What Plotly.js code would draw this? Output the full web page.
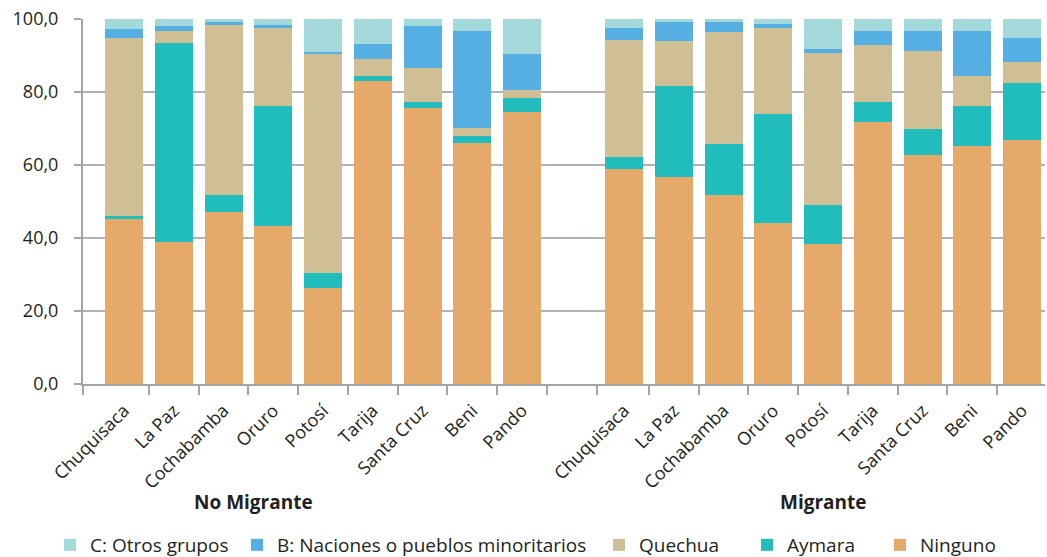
<!DOCTYPE html>
<html>
<head>
<meta charset="utf-8">
<script src="https://cdn.plot.ly/plotly-3.0.1.min.js"></script>
<style>
  html, body { margin: 0; padding: 0; background: #ffffff; }
  #chart { width: 1047px; height: 557px; }
</style>
</head>
<body>
<div id="chart"></div>
<script>
// Categories
const departamentos = ["Chuquisaca", "La Paz", "Cochabamba", "Oruro", "Potosí", "Tarija", "Santa Cruz", "Beni", "Pando"];
const grupos = ["No Migrante", "Migrante"];

// Series values (%), No Migrante
const ningunoNM  = [45.2, 38.9, 47.1, 43.3, 26.3, 83.0, 75.6, 66.0, 74.5];
const aymaraNM   = [0.8, 54.5, 4.7, 32.9, 4.1, 1.4, 1.7, 1.9, 3.9];
const quechuaNM  = [48.8, 3.3, 46.6, 21.3, 60.0, 4.6, 9.3, 2.2, 2.1];
const naciones_NM = [2.5, 1.4, 0.8, 0.9, 0.6, 4.2, 11.5, 26.6, 9.9];
const otrosNM    = [3.5, 2.7, 1.6, 2.4, 9.8, 7.6, 2.7, 3.8, 10.4];

// Series values (%), Migrante
const ningunoM   = [58.9, 56.7, 51.8, 44.1, 38.4, 71.8, 62.7, 65.2, 66.8];
const aymaraM    = [3.3, 24.9, 14.0, 29.9, 10.6, 5.5, 7.2, 11.0, 15.7];
const quechuaM   = [32.0, 12.4, 30.6, 23.5, 41.7, 15.6, 21.3, 8.2, 5.7];
const naciones_M = [3.3, 5.2, 2.8, 1.1, 1.1, 3.8, 5.5, 12.3, 6.6];
const otrosM     = [3.0, 1.6, 1.6, 2.2, 9.0, 3.8, 3.8, 3.8, 6.0];

// Series names and colours
const seriesNames = ["Ninguno", "Aymara", "Quechua", "B: Naciones o pueblos minoritarios", "C: Otros grupos"];
const seriesColors = ["#e5aa6a", "#21bcbc", "#d0be94", "#55afe2", "#a3d9da"];
const yTicks = [0, 20, 40, 60, 80, 100];

// Layout helpers (positions on a numeric axis: one group, an empty slot, the other group)
const posNM = departamentos.map((d, i) => i);
const posM = departamentos.map((d, i) => i + 10.05);
const xPos = posNM.concat(posM);
const xLabels = departamentos.concat(departamentos);
const boundaries = [-0.82]
  .concat(posNM.map(p => p + 0.5))
  .concat([9.5])
  .concat(posM.slice(0, -1).map(p => p + 0.5));

const valuesNM = [ningunoNM, aymaraNM, quechuaNM, naciones_NM, otrosNM];
const valuesM = [ningunoM, aymaraM, quechuaM, naciones_M, otrosM];

const font = "'Open Sans', sans-serif";
const textColor = "#231f20";
const gray = "#a2a4a7";

// legend placement (container px of text start) per series
const legendX = [918, 785, 637, 275, 88];
const legendIds = ["legend5", "legend4", "legend3", "legend2", "legend"];

const traces = seriesNames.map((name, k) => ({
  type: "bar",
  name: name,
  x: xPos,
  y: valuesNM[k].concat(valuesM[k]),
  width: 0.764,
  marker: { color: seriesColors[k], line: { width: 0 } },
  cliponaxis: false,
  legend: legendIds[k],
  hovertemplate: name + ": %{y:.1f}<extra></extra>"
}));

const W = 1047, H = 557;
const layout = {
  width: W, height: H,
  margin: { l: 83, r: 2, t: 19, b: 173 },
  paper_bgcolor: "#ffffff",
  plot_bgcolor: "#ffffff",
  barmode: "stack",
  separators: ",.",
  font: { family: font, size: 18, color: textColor },
  showlegend: true,
  xaxis: {
    range: [-0.824, 18.51],
    tickmode: "array",
    tickvals: xPos,
    ticktext: xLabels,
    tickangle: -45,
    ticks: "",
    ticklen: 0,
    ticklabelstandoff: 7,
    showgrid: false,
    zeroline: false,
    showline: true,
    linecolor: gray,
    linewidth: 2,
    tickfont: { family: font, size: 18, color: textColor },
    minor: {
      tickmode: "array",
      tickvals: boundaries,
      ticks: "outside",
      ticklen: 9,
      tickwidth: 2,
      tickcolor: gray,
      showgrid: false
    },
    fixedrange: true
  },
  yaxis: {
    range: [0, 100],
    tickmode: "array",
    tickvals: yTicks,
    tickformat: ".1f",
    ticks: "outside",
    ticklen: 7,
    tickwidth: 2,
    tickcolor: gray,
    ticklabelstandoff: 12,
    showline: true,
    linecolor: gray,
    linewidth: 2,
    showgrid: true,
    gridcolor: "#afb1b4",
    gridwidth: 2,
    zeroline: false,
    tickfont: { family: font, size: 18, color: textColor },
    fixedrange: true
  },
  annotations: [
    { text: "<b>" + grupos[0] + "</b>", xref: "paper", yref: "paper", x: (253 - 83) / 962, y: (384 - 502) / 365,
      xanchor: "center", yanchor: "middle", showarrow: false, font: { family: font, size: 19, color: textColor } },
    { text: "<b>" + grupos[1] + "</b>", xref: "paper", yref: "paper", x: (823 - 83) / 962, y: (384 - 502) / 365,
      xanchor: "center", yanchor: "middle", showarrow: false, font: { family: font, size: 19, color: textColor } }
  ]
};

legendIds.forEach((id, k) => {
  layout[id] = {
    xref: "container", yref: "container",
    x: (legendX[k] - 38) / W,
    y: (557 - 545) / H,
    xanchor: "left", yanchor: "middle",
    orientation: "h",
    bgcolor: "rgba(0,0,0,0)",
    borderwidth: 0,
    font: { family: font, size: 19, color: textColor }
  };
});

Plotly.newPlot("chart", traces, layout, { displayModeBar: false, staticPlot: true });
</script>
</body>
</html>
